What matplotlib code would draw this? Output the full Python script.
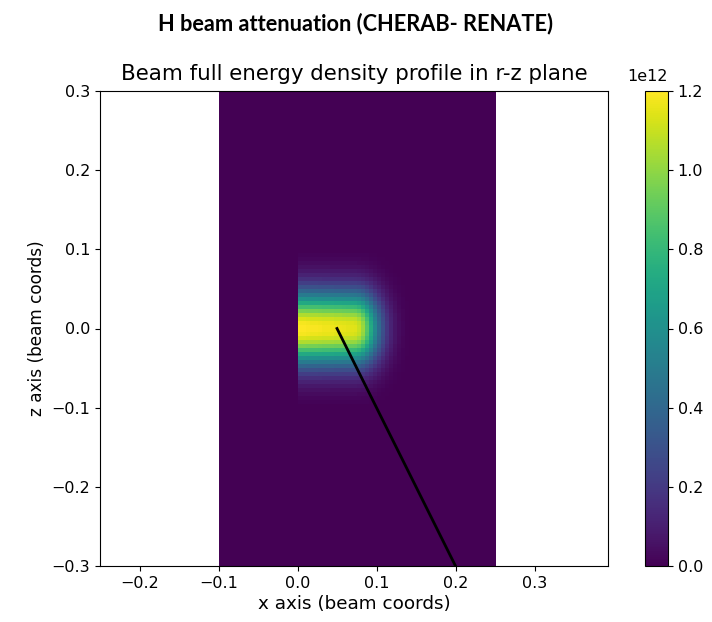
import numpy as np
import matplotlib
matplotlib.use("Agg")
import matplotlib.pyplot as plt

peak_density = 1.2e12
z_offsets = [0.0, 0.005, 0.01, 0.015, 0.02, 0.025, 0.03, 0.035, 0.04, 0.045,
             0.05, 0.055, 0.06, 0.065, 0.07, 0.075, 0.08, 0.085, 0.09]
z_profile = [1.0, 0.986, 0.946, 0.882, 0.80, 0.707, 0.607, 0.506, 0.411, 0.325,
             0.249, 0.186, 0.135, 0.096, 0.066, 0.044, 0.029, 0.018, 0.011]
x_positions = [0.0, 0.005, 0.01, 0.015, 0.02, 0.025, 0.03, 0.035, 0.04, 0.045,
               0.05, 0.055, 0.06, 0.065, 0.07, 0.075, 0.08, 0.085, 0.09, 0.095,
               0.1, 0.105, 0.11, 0.115, 0.12, 0.125, 0.13, 0.135, 0.14]
x_profile = [1.0, 1.0, 0.995, 0.99, 0.99, 0.985, 0.98, 0.98, 0.975, 0.97,
             0.97, 0.965, 0.96, 0.955, 0.95, 0.92, 0.85, 0.74, 0.61, 0.47,
             0.35, 0.245, 0.16, 0.10, 0.058, 0.032, 0.016, 0.007, 0.003]

# sight line drawn on top
line_x = [0.05, 0.2]
line_z = [0.0, -0.3]

# grid covering the sampled region
step = 0.005
x_edges = np.arange(-0.1, 0.25 + step / 2, step)
z_edges = np.arange(-0.3, 0.3 + step / 2, step)
x_c = (x_edges[:-1] + x_edges[1:]) / 2
z_c = (z_edges[:-1] + z_edges[1:]) / 2

# lookup tables (symmetric in z)
zp = dict(zip(np.round(z_offsets, 3), z_profile))
xp = dict(zip(np.round(x_positions, 3), x_profile))

density = np.zeros((len(z_c), len(x_c)))
for i, z in enumerate(z_c):
    gz = zp.get(round(abs(z) - step / 2, 3), 0.0)
    for j, x in enumerate(x_c):
        if x < 0:
            continue
        fx = xp.get(round(x - step / 2, 3), 0.0)
        density[i, j] = peak_density * fx * gz

fig = plt.figure(figsize=(7.12, 6.22), dpi=100)
ax = fig.add_axes([100 / 712, 56 / 622, 508 / 712, 475 / 622])
cax = fig.add_axes([645 / 712, 56 / 622, 23 / 712, 475 / 622])

im = ax.imshow(density, extent=[-0.1, 0.25, -0.3, 0.3], origin="lower",
               cmap="viridis", vmin=0, vmax=peak_density, interpolation="nearest")
ax.plot(line_x, line_z, color="k", lw=2)
ax.set_xlim(-0.25, 0.393)
ax.set_ylim(-0.3, 0.3)
ax.set_aspect("auto")
ax.set_xticks([-0.2, -0.1, 0.0, 0.1, 0.2, 0.3])
ax.set_yticks([-0.3, -0.2, -0.1, 0.0, 0.1, 0.2, 0.3])
ax.tick_params(labelsize=11.5)
ax.set_xlabel("x axis (beam coords)", fontsize=13.2, labelpad=3)
ax.set_ylabel("z axis (beam coords)", fontsize=12.2)
ax.set_title("Beam full energy density profile in r-z plane", fontsize=15.4, pad=8)

cb = fig.colorbar(im, cax=cax)
cb.set_ticks([0, 0.2e12, 0.4e12, 0.6e12, 0.8e12, 1.0e12, 1.2e12])
cb.ax.tick_params(labelsize=11.5)
cb.ax.yaxis.OFFSETTEXTPAD = 7
cb.ax.yaxis.get_offset_text().set_fontsize(11.5)

fig.text(0.5, 0.963, "H beam attenuation (CHERAB- RENATE)", ha="center", va="center",
         fontsize=15.7, fontweight="bold", family=["Lato", "DejaVu Sans"])

fig.savefig("out.png", dpi=100)
